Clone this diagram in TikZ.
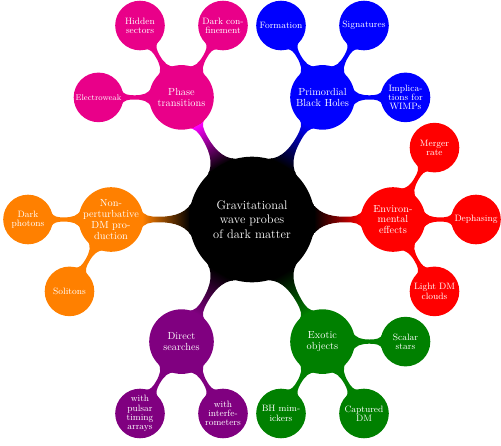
\documentclass[tikz,border=0pt]{standalone}
\usetikzlibrary{mindmap,backgrounds}

\definecolor{phasecol}{RGB}{233,0,137}
\definecolor{exoticcol}{RGB}{0,128,0}
\definecolor{directcol}{RGB}{128,0,128}

\tikzset{
  bubble/.style={circle, fill=#1, draw=#1, line width=1.6pt, outer sep=0pt,
    inner sep=-10pt, text=white, align=center},
  rootidea/.style={bubble=black, minimum size=124pt,
    font=\fontsize{12.4}{14.5}\selectfont},
  topic/.style={bubble=#1, minimum size=63pt,
    font=\fontsize{10.3}{10.8}\selectfont},
  subtopic/.style={bubble=#1, minimum size=48pt,
    font=\fontsize{9.2}{9.3}\selectfont},
  outer link/.style={circle connection bar switch color=from (black) to (#1)},
  inner link/.style={circle connection bar switch color=from (#1) to (#1)},
}

\begin{document}
\begin{tikzpicture}[x=1pt, y=1pt]
    \useasboundingbox (-252,-225.5) rectangle (249,219.5);

    % centre
    \node[rootidea] (gw) at (0,0) {Gravitational\\wave probes\\of dark matter};

    % first ring
    \node[topic=phasecol] (phase) at (120:141) {Phase\\transitions};
    \node[topic=blue] (pbh) at (60:141) {Primordial\\Black Holes};
    \node[topic=red] (env) at (0:141) {Environ-\\mental\\effects};
    \node[topic=exoticcol] (exotic) at (-60:141) {Exotic\\objects};
    \node[topic=directcol] (direct) at (-120:141) {Direct\\searches};
    \node[topic=orange] (nonpert) at (180:141) {Non-\\perturbative\\DM pro-\\duction};

    % second ring
    \node[subtopic=phasecol] (hidden) at ([shift={(120:83)}]phase.center) {Hidden\\sectors};
    \node[subtopic=phasecol] (confine) at ([shift={(60:83)}]phase.center) {Dark con-\\finement};
    \node[subtopic=phasecol, font=\fontsize{8.2}{9}\selectfont] (ew) at ([shift={(180:83)}]phase.center) {Electroweak};

    \node[subtopic=blue] (formation) at ([shift={(120:83)}]pbh.center) {Formation};
    \node[subtopic=blue] (signatures) at ([shift={(60:83)}]pbh.center) {Signatures};
    \node[subtopic=blue] (wimps) at ([shift={(0:83)}]pbh.center) {Implica-\\tions for\\WIMPs};

    \node[subtopic=red] (merger) at ([shift={(60:83)}]env.center) {Merger\\rate};
    \node[subtopic=red] (dephasing) at ([shift={(0:83)}]env.center) {Dephasing};
    \node[subtopic=red] (clouds) at ([shift={(-60:83)}]env.center) {Light DM\\clouds};

    \node[subtopic=exoticcol] (scalar) at ([shift={(0:83)}]exotic.center) {Scalar\\stars};
    \node[subtopic=exoticcol] (mimickers) at ([shift={(-120:83)}]exotic.center) {BH mim-\\ickers};
    \node[subtopic=exoticcol] (captured) at ([shift={(-60:83)}]exotic.center) {Captured\\DM};

    \node[subtopic=directcol] (pta) at ([shift={(-120:83)}]direct.center) {with\\pulsar\\timing\\arrays};
    \node[subtopic=directcol] (interf) at ([shift={(-60:83)}]direct.center) {with\\interfe-\\rometers};

    \node[subtopic=orange] (photons) at ([shift={(180:83)}]nonpert.center) {Dark\\photons};
    \node[subtopic=orange] (solitons) at ([shift={(-120:83)}]nonpert.center) {Solitons};

    % connectors, behind the circles
    \begin{pgfonlayer}{background}
    \path (gw) to[outer link=magenta] (phase);
    \path (gw) to[outer link=blue] (pbh);
    \path (gw) to[outer link=red] (env);
    \path (gw) to[outer link=exoticcol] (exotic);
    \path (gw) to[outer link=directcol] (direct);
    \path (gw) to[outer link=orange] (nonpert);

    \path (phase) to[inner link=phasecol] (hidden);
    \path (phase) to[inner link=phasecol] (confine);
    \path (phase) to[inner link=phasecol] (ew);
    \path (pbh) to[inner link=blue] (formation);
    \path (pbh) to[inner link=blue] (signatures);
    \path (pbh) to[inner link=blue] (wimps);
    \path (env) to[inner link=red] (merger);
    \path (env) to[inner link=red] (dephasing);
    \path (env) to[inner link=red] (clouds);
    \path (exotic) to[inner link=exoticcol] (scalar);
    \path (exotic) to[inner link=exoticcol] (mimickers);
    \path (exotic) to[inner link=exoticcol] (captured);
    \path (direct) to[inner link=directcol] (pta);
    \path (direct) to[inner link=directcol] (interf);
    \path (nonpert) to[inner link=orange] (photons);
    \path (nonpert) to[inner link=orange] (solitons);
    \end{pgfonlayer}
\end{tikzpicture}
\end{document}
